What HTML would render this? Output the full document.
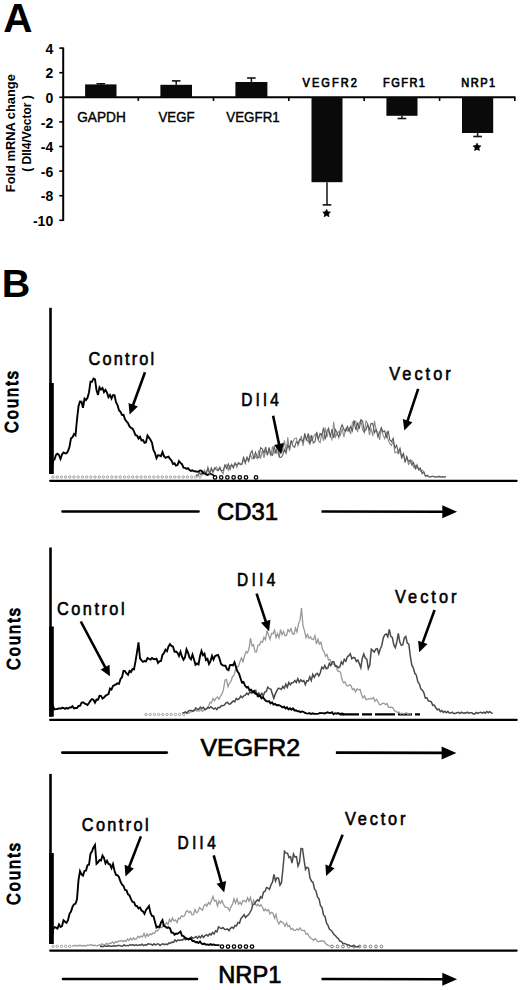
<!DOCTYPE html>
<html><head><meta charset="utf-8"><style>
html,body{margin:0;padding:0;background:#fff;width:520px;height:990px;overflow:hidden}
svg{display:block}
text{font-family:"Liberation Sans", sans-serif;fill:#000}
</style></head><body>
<svg width="520" height="990" viewBox="0 0 520 990">
<text x="3.3" y="32" font-size="40.5" font-weight="bold" fill="#000">A</text>
<line x1="63.2" y1="47.5" x2="63.2" y2="220.9" stroke="#000" stroke-width="2"/>
<line x1="59.3" y1="48.1" x2="63.2" y2="48.1" stroke="#000" stroke-width="1.6"/>
<text x="53.2" y="53.7" font-size="14" font-weight="bold" text-anchor="end">4</text>
<line x1="59.3" y1="72.7" x2="63.2" y2="72.7" stroke="#000" stroke-width="1.6"/>
<text x="53.2" y="78.3" font-size="14" font-weight="bold" text-anchor="end">2</text>
<line x1="59.3" y1="97.3" x2="63.2" y2="97.3" stroke="#000" stroke-width="1.6"/>
<text x="53.2" y="102.9" font-size="14" font-weight="bold" text-anchor="end">0</text>
<line x1="59.3" y1="121.9" x2="63.2" y2="121.9" stroke="#000" stroke-width="1.6"/>
<text x="53.2" y="127.5" font-size="14" font-weight="bold" text-anchor="end">-2</text>
<line x1="59.3" y1="146.5" x2="63.2" y2="146.5" stroke="#000" stroke-width="1.6"/>
<text x="53.2" y="152.1" font-size="14" font-weight="bold" text-anchor="end">-4</text>
<line x1="59.3" y1="171.1" x2="63.2" y2="171.1" stroke="#000" stroke-width="1.6"/>
<text x="53.2" y="176.7" font-size="14" font-weight="bold" text-anchor="end">-6</text>
<line x1="59.3" y1="195.7" x2="63.2" y2="195.7" stroke="#000" stroke-width="1.6"/>
<text x="53.2" y="201.3" font-size="14" font-weight="bold" text-anchor="end">-8</text>
<line x1="59.3" y1="220.3" x2="63.2" y2="220.3" stroke="#000" stroke-width="1.6"/>
<text x="53.2" y="225.9" font-size="14" font-weight="bold" text-anchor="end">-10</text>
<line x1="62.2" y1="97.3" x2="515.5" y2="97.3" stroke="#000" stroke-width="2"/>
<line x1="138.3" y1="97.3" x2="138.3" y2="100.9" stroke="#000" stroke-width="1.6"/>
<line x1="213.5" y1="97.3" x2="213.5" y2="100.9" stroke="#000" stroke-width="1.6"/>
<line x1="288.8" y1="97.3" x2="288.8" y2="100.9" stroke="#000" stroke-width="1.6"/>
<line x1="364.2" y1="97.3" x2="364.2" y2="100.9" stroke="#000" stroke-width="1.6"/>
<line x1="439.6" y1="97.3" x2="439.6" y2="100.9" stroke="#000" stroke-width="1.6"/>
<line x1="514.8" y1="97.3" x2="514.8" y2="100.9" stroke="#000" stroke-width="1.6"/>
<rect x="85.1" y="84.4" width="31.4" height="12.9" fill="#0a0a0a"/>
<line x1="100.8" y1="84.4" x2="100.8" y2="83.8" stroke="#111" stroke-width="1.5"/>
<line x1="96.5" y1="83.8" x2="105.1" y2="83.8" stroke="#111" stroke-width="1.6"/>
<rect x="160.4" y="84.8" width="31.6" height="12.5" fill="#0a0a0a"/>
<line x1="176.2" y1="84.8" x2="176.2" y2="80.9" stroke="#111" stroke-width="1.5"/>
<line x1="171.9" y1="80.9" x2="180.5" y2="80.9" stroke="#111" stroke-width="1.6"/>
<rect x="235.4" y="82.0" width="32.0" height="15.3" fill="#0a0a0a"/>
<line x1="251.4" y1="82.0" x2="251.4" y2="78.0" stroke="#111" stroke-width="1.5"/>
<line x1="247.1" y1="78.0" x2="255.7" y2="78.0" stroke="#111" stroke-width="1.6"/>
<rect x="311.5" y="97.3" width="31.0" height="84.9" fill="#0a0a0a"/>
<line x1="327.0" y1="182.2" x2="327.0" y2="204.9" stroke="#111" stroke-width="1.5"/>
<line x1="322.7" y1="204.9" x2="331.3" y2="204.9" stroke="#111" stroke-width="1.6"/>
<rect x="386.4" y="97.3" width="31.1" height="18.5" fill="#0a0a0a"/>
<line x1="401.9" y1="115.8" x2="401.9" y2="118.5" stroke="#111" stroke-width="1.5"/>
<line x1="397.6" y1="118.5" x2="406.2" y2="118.5" stroke="#111" stroke-width="1.6"/>
<rect x="462" y="97.3" width="31.2" height="35.7" fill="#0a0a0a"/>
<line x1="477.6" y1="133.0" x2="477.6" y2="136.5" stroke="#111" stroke-width="1.5"/>
<line x1="473.3" y1="136.5" x2="481.9" y2="136.5" stroke="#111" stroke-width="1.6"/>
<text x="101.5" y="121.5" font-size="14" text-anchor="middle" textLength="48.5" lengthAdjust="spacingAndGlyphs" fill="#000" stroke="#000" stroke-width="0.4">GAPDH</text>
<text x="176.5" y="121.5" font-size="14" text-anchor="middle" textLength="36" lengthAdjust="spacingAndGlyphs" fill="#000" stroke="#000" stroke-width="0.4">VEGF</text>
<text x="253" y="121.5" font-size="14" text-anchor="middle" textLength="53.5" lengthAdjust="spacingAndGlyphs" fill="#000" stroke="#000" stroke-width="0.4">VEGFR1</text>
<text transform="translate(329.7,87.3) scale(0.85,1)" font-size="13" text-anchor="middle" textLength="64.1" lengthAdjust="spacing" fill="#000" stroke="#000" stroke-width="0.7">VEGFR2</text>
<text transform="translate(404,87.3) scale(0.85,1)" font-size="13" text-anchor="middle" textLength="49.4" lengthAdjust="spacing" fill="#000" stroke="#000" stroke-width="0.7">FGFR1</text>
<text transform="translate(478.2,87.3) scale(0.85,1)" font-size="13" text-anchor="middle" textLength="39.8" lengthAdjust="spacing" fill="#000" stroke="#000" stroke-width="0.7">NRP1</text>
<polygon points="326.60,209.40 327.75,211.82 330.40,212.16 328.45,214.00 328.95,216.64 326.60,215.35 324.25,216.64 324.75,214.00 322.80,212.16 325.45,211.82" fill="#000" stroke="#000" stroke-width="0.8" stroke-linejoin="round"/>
<polygon points="477.00,143.20 478.15,145.62 480.80,145.96 478.85,147.80 479.35,150.44 477.00,149.15 474.65,150.44 475.15,147.80 473.20,145.96 475.85,145.62" fill="#000" stroke="#000" stroke-width="0.8" stroke-linejoin="round"/>
<text transform="translate(15.2,133.2) rotate(-90)" font-size="12.5" font-weight="bold" text-anchor="middle" textLength="118" lengthAdjust="spacingAndGlyphs">Fold mRNA change</text>
<text transform="translate(30.6,133.5) rotate(-90)" font-size="13.6" font-weight="bold" text-anchor="middle" textLength="76.5" lengthAdjust="spacingAndGlyphs">( Dll4/Vector )</text>
<text x="1.8" y="296.8" font-size="39.5" font-weight="bold" fill="#000">B</text>
<line x1="50.5" y1="307.8" x2="50.5" y2="474" stroke="#000" stroke-width="2.6"/>
<rect x="49.2" y="383" width="4.6" height="91.0" fill="#000"/>
<line x1="50.2" y1="480.8" x2="516.6" y2="480.8" stroke="#000" stroke-width="2.3" stroke-linecap="round"/>
<text transform="translate(18.0,402) rotate(-90) scale(0.86,1)" font-size="19" text-anchor="middle" textLength="72.1" lengthAdjust="spacing" stroke="#000" stroke-width="1.1">Counts</text>
<circle cx="53.0" cy="477" r="1.2" fill="none" stroke="#999" stroke-width="0.9"/>
<circle cx="57.2" cy="477" r="1.2" fill="none" stroke="#999" stroke-width="0.9"/>
<circle cx="61.4" cy="477" r="1.2" fill="none" stroke="#999" stroke-width="0.9"/>
<circle cx="65.6" cy="477" r="1.2" fill="none" stroke="#999" stroke-width="0.9"/>
<circle cx="69.8" cy="477" r="1.2" fill="none" stroke="#999" stroke-width="0.9"/>
<circle cx="74.0" cy="477" r="1.2" fill="none" stroke="#999" stroke-width="0.9"/>
<circle cx="78.2" cy="477" r="1.2" fill="none" stroke="#999" stroke-width="0.9"/>
<circle cx="82.4" cy="477" r="1.2" fill="none" stroke="#999" stroke-width="0.9"/>
<circle cx="86.6" cy="477" r="1.2" fill="none" stroke="#999" stroke-width="0.9"/>
<circle cx="90.8" cy="477" r="1.2" fill="none" stroke="#999" stroke-width="0.9"/>
<circle cx="95.0" cy="477" r="1.2" fill="none" stroke="#999" stroke-width="0.9"/>
<circle cx="99.2" cy="477" r="1.2" fill="none" stroke="#999" stroke-width="0.9"/>
<circle cx="103.4" cy="477" r="1.2" fill="none" stroke="#999" stroke-width="0.9"/>
<circle cx="107.6" cy="477" r="1.2" fill="none" stroke="#999" stroke-width="0.9"/>
<circle cx="111.8" cy="477" r="1.2" fill="none" stroke="#999" stroke-width="0.9"/>
<circle cx="116.0" cy="477" r="1.2" fill="none" stroke="#999" stroke-width="0.9"/>
<circle cx="120.2" cy="477" r="1.2" fill="none" stroke="#999" stroke-width="0.9"/>
<circle cx="124.4" cy="477" r="1.2" fill="none" stroke="#999" stroke-width="0.9"/>
<circle cx="128.6" cy="477" r="1.2" fill="none" stroke="#999" stroke-width="0.9"/>
<circle cx="132.8" cy="477" r="1.2" fill="none" stroke="#999" stroke-width="0.9"/>
<circle cx="137.0" cy="477" r="1.2" fill="none" stroke="#999" stroke-width="0.9"/>
<circle cx="141.2" cy="477" r="1.2" fill="none" stroke="#999" stroke-width="0.9"/>
<circle cx="145.4" cy="477" r="1.2" fill="none" stroke="#999" stroke-width="0.9"/>
<circle cx="149.6" cy="477" r="1.2" fill="none" stroke="#999" stroke-width="0.9"/>
<circle cx="153.8" cy="477" r="1.2" fill="none" stroke="#999" stroke-width="0.9"/>
<circle cx="158.0" cy="477" r="1.2" fill="none" stroke="#999" stroke-width="0.9"/>
<circle cx="162.2" cy="477" r="1.2" fill="none" stroke="#999" stroke-width="0.9"/>
<circle cx="166.4" cy="477" r="1.2" fill="none" stroke="#999" stroke-width="0.9"/>
<circle cx="170.6" cy="477" r="1.2" fill="none" stroke="#999" stroke-width="0.9"/>
<circle cx="174.8" cy="477" r="1.2" fill="none" stroke="#999" stroke-width="0.9"/>
<circle cx="179.0" cy="477" r="1.2" fill="none" stroke="#999" stroke-width="0.9"/>
<circle cx="183.2" cy="477" r="1.2" fill="none" stroke="#999" stroke-width="0.9"/>
<circle cx="187.4" cy="477" r="1.2" fill="none" stroke="#999" stroke-width="0.9"/>
<circle cx="191.6" cy="477" r="1.2" fill="none" stroke="#999" stroke-width="0.9"/>
<circle cx="195.8" cy="477" r="1.2" fill="none" stroke="#999" stroke-width="0.9"/>
<circle cx="200.0" cy="477" r="1.2" fill="none" stroke="#999" stroke-width="0.9"/>
<circle cx="215.0" cy="477.4" r="1.7" fill="none" stroke="#000" stroke-width="1.3"/>
<circle cx="221.2" cy="477.4" r="1.7" fill="none" stroke="#000" stroke-width="1.3"/>
<circle cx="227.4" cy="477.4" r="1.7" fill="none" stroke="#000" stroke-width="1.3"/>
<circle cx="233.6" cy="477.4" r="1.7" fill="none" stroke="#000" stroke-width="1.3"/>
<circle cx="239.8" cy="477.4" r="1.7" fill="none" stroke="#000" stroke-width="1.3"/>
<circle cx="246.0" cy="477.4" r="1.7" fill="none" stroke="#000" stroke-width="1.3"/>
<circle cx="256.0" cy="477.4" r="1.7" fill="none" stroke="#000" stroke-width="1.3"/>
<line x1="209" y1="473" x2="215" y2="476" stroke="#000" stroke-width="1.6"/>
<path d="M196.0,475.2 L197.7,476.1 L199.4,473.2 L201.1,473.0 L202.8,474.9 L204.5,470.0 L206.2,473.8 L207.9,469.0 L209.6,473.0 L211.3,469.7 L213.0,472.7 L214.7,468.8 L216.4,466.9 L218.1,470.8 L219.8,468.7 L221.5,471.7 L223.2,473.7 L224.9,465.1 L226.6,465.0 L228.3,470.2 L230.0,465.4 L231.7,465.5 L233.4,466.3 L235.1,462.8 L236.8,467.5 L238.5,463.2 L240.2,464.8 L241.9,464.3 L243.6,459.8 L245.3,461.6 L247.0,458.2 L248.7,461.8 L250.4,454.7 L252.1,458.8 L253.8,458.4 L255.5,456.2 L257.2,458.8 L258.9,450.0 L260.6,458.6 L262.3,450.6 L264.0,457.9 L265.7,450.5 L267.4,453.9 L269.1,450.6 L270.8,456.2 L272.5,446.3 L274.2,453.2 L275.9,449.8 L277.6,452.4 L279.3,456.5 L281.0,447.6 L282.7,451.6 L284.4,440.3 L286.1,452.0 L287.8,437.4 L289.5,451.2 L291.2,441.1 L292.9,442.1 L294.6,438.6 L296.3,438.0 L298.0,445.6 L299.7,441.2 L301.4,436.0 L303.1,445.9 L304.8,434.9 L306.5,439.2 L308.2,442.0 L309.9,435.8 L311.6,440.7 L313.3,437.6 L315.0,434.1 L316.7,435.4 L318.4,440.5 L320.1,442.6 L321.8,433.2 L323.5,440.9 L325.2,427.7 L326.9,437.4 L328.6,430.4 L330.3,436.1 L332.0,439.7 L333.7,421.8 L335.4,437.1 L337.1,433.4 L338.8,431.5 L340.5,435.1 L342.2,428.4 L343.9,437.2 L345.6,428.7 L347.3,430.9 L349.0,427.6 L350.7,434.2 L352.4,422.5 L354.1,420.9 L355.8,421.5 L357.5,432.1 L359.2,422.7 L360.9,420.3 L362.6,429.6 L364.3,432.7 L366.0,421.0 L367.7,423.6 L369.4,435.0 L371.1,428.1 L372.8,436.1 L374.5,420.8 L376.2,430.8 L377.9,432.1 L379.6,439.9 L381.3,428.8 L383.0,434.6 L384.7,438.7 L386.4,432.9 L388.1,439.8 L389.8,443.7 L391.5,445.4 L393.2,440.6 L394.9,452.7 L396.6,451.9 L398.3,453.8 L400.0,451.4 L401.7,459.0 L403.4,453.2 L405.1,461.5 L406.8,457.1 L408.5,464.6 L410.2,462.4 L411.9,460.4 L413.6,467.4 L415.3,465.5 L417.0,468.6 L418.7,467.7 L420.4,471.2 L422.1,470.2 L423.8,471.8 L425.5,476.0 L427.2,476.3 L428.9,477.0 L430.6,476.9 L432.3,476.5 L434.0,476.4 L435.7,477.0 L437.4,476.6 L439.1,476.1 L440.8,477.0 L442.5,476.6 L444.2,477.0 L445.9,476.7" fill="none" stroke="#8c8c8c" stroke-width="1.1"/>
<path d="M196.0,475.0 L197.7,475.3 L199.4,472.6 L201.1,474.8 L202.8,471.6 L204.5,472.0 L206.2,473.9 L207.9,467.3 L209.6,473.7 L211.3,467.8 L213.0,471.7 L214.7,467.8 L216.4,469.9 L218.1,470.6 L219.8,467.0 L221.5,470.9 L223.2,470.4 L224.9,465.2 L226.6,468.4 L228.3,463.9 L230.0,469.3 L231.7,464.5 L233.4,468.1 L235.1,463.3 L236.8,465.2 L238.5,462.5 L240.2,464.0 L241.9,464.1 L243.6,456.6 L245.3,463.3 L247.0,457.1 L248.7,460.5 L250.4,453.5 L252.1,450.7 L253.8,458.9 L255.5,452.3 L257.2,456.9 L258.9,457.7 L260.6,447.7 L262.3,448.9 L264.0,453.0 L265.7,447.0 L267.4,455.4 L269.1,447.3 L270.8,454.1 L272.5,455.1 L274.2,446.1 L275.9,453.7 L277.6,445.9 L279.3,457.1 L281.0,457.5 L282.7,455.3 L284.4,449.5 L286.1,453.2 L287.8,444.9 L289.5,448.4 L291.2,440.4 L292.9,446.0 L294.6,447.4 L296.3,441.7 L298.0,443.5 L299.7,439.2 L301.4,440.0 L303.1,441.9 L304.8,433.4 L306.5,440.6 L308.2,433.4 L309.9,444.7 L311.6,435.2 L313.3,443.1 L315.0,441.7 L316.7,431.9 L318.4,439.1 L320.1,433.5 L321.8,435.8 L323.5,427.5 L325.2,439.5 L326.9,431.4 L328.6,428.1 L330.3,437.1 L332.0,429.1 L333.7,437.9 L335.4,429.5 L337.1,432.7 L338.8,437.4 L340.5,428.5 L342.2,424.8 L343.9,429.4 L345.6,431.6 L347.3,426.4 L349.0,431.3 L350.7,426.5 L352.4,431.0 L354.1,420.5 L355.8,430.0 L357.5,422.5 L359.2,428.9 L360.9,419.8 L362.6,421.1 L364.3,431.5 L366.0,429.7 L367.7,424.5 L369.4,429.7 L371.1,423.5 L372.8,423.8 L374.5,432.7 L376.2,429.5 L377.9,436.8 L379.6,432.5 L381.3,427.5 L383.0,431.9 L384.7,430.9 L386.4,437.8 L388.1,430.5 L389.8,439.7 L391.5,441.7 L393.2,438.2 L394.9,448.3 L396.6,445.3 L398.3,452.3 L400.0,448.1 L401.7,457.1 L403.4,453.7 L405.1,462.3 L406.8,456.5 L408.5,461.7 L410.2,460.1 L411.9,465.0 L413.6,462.6 L415.3,468.8 L417.0,464.8 L418.7,469.9 L420.4,468.0 L422.1,473.7 L423.8,472.0 L425.5,476.4 L427.2,475.1 L428.9,476.4 L430.6,477.0 L432.3,476.1 L434.0,476.9 L435.7,477.0 L437.4,477.0 L439.1,476.6 L440.8,477.0 L442.5,476.7 L444.2,477.0 L445.9,476.6" fill="none" stroke="#5a5a5a" stroke-width="1.1"/>
<path d="M51.5,473.5 L53.0,460.6 L54.5,459.5 L56.0,454.8 L57.5,453.7 L59.0,455.0 L60.5,459.0 L62.0,454.5 L63.5,452.5 L65.0,453.4 L66.5,453.3 L68.0,451.1 L69.5,446.7 L71.0,438.3 L72.5,437.3 L74.0,434.1 L75.5,435.4 L77.0,419.5 L78.5,406.3 L80.0,401.6 L81.5,401.7 L83.0,407.9 L84.5,398.7 L86.0,400.0 L87.5,397.8 L89.0,392.4 L90.5,381.7 L92.0,381.8 L93.5,378.6 L95.0,379.4 L96.5,390.0 L98.0,394.9 L99.5,387.3 L101.0,389.5 L102.5,388.0 L104.0,392.1 L105.5,389.8 L107.0,392.6 L108.5,397.1 L110.0,395.0 L111.5,398.5 L113.0,395.1 L114.5,395.1 L116.0,402.1 L117.5,405.0 L119.0,410.2 L120.5,411.9 L122.0,414.9 L123.5,414.8 L125.0,419.4 L126.5,421.3 L128.0,423.1 L129.5,426.4 L131.0,428.0 L132.5,428.6 L134.0,431.3 L135.5,435.2 L137.0,435.6 L138.5,438.5 L140.0,436.8 L141.5,440.4 L143.0,440.0 L144.5,442.8 L146.0,442.3 L147.5,435.5 L149.0,437.6 L150.5,439.8 L152.0,442.7 L153.5,450.1 L155.0,453.0 L156.5,458.2 L158.0,455.3 L159.5,455.5 L161.0,456.2 L162.5,452.1 L164.0,456.2 L165.5,457.9 L167.0,457.1 L168.5,456.7 L170.0,459.0 L171.5,460.6 L173.0,464.0 L174.5,463.3 L176.0,465.6 L177.5,465.1 L179.0,461.1 L180.5,462.9 L182.0,464.2 L183.5,467.6 L185.0,467.8 L186.5,468.9 L188.0,468.1 L189.5,470.0 L191.0,470.9 L192.5,470.3 L194.0,471.4 L195.5,471.3 L197.0,471.8 L198.5,471.5 L200.0,470.4 L201.5,470.7 L203.0,473.1 L204.5,473.3 L206.0,474.4 L207.5,475.0 L209.0,474.1" fill="none" stroke="#000" stroke-width="1.9"/>
<text transform="translate(88.5,365.4) scale(0.86,1)" font-size="19" textLength="76.4" lengthAdjust="spacing" stroke="#000" stroke-width="0.65">Control</text>
<line x1="145.0" y1="372.3" x2="132.8" y2="405.7" stroke="#000" stroke-width="2.6"/>
<polygon points="129.6,414.6 128.5,403.0 137.9,406.4" fill="#000"/>
<text transform="translate(241.3,406.2) scale(0.86,1)" font-size="18" textLength="43.6" lengthAdjust="spacing" stroke="#000" stroke-width="0.65">Dll4</text>
<line x1="273.1" y1="415.8" x2="279.2" y2="444.9" stroke="#000" stroke-width="2.6"/>
<polygon points="281.2,454.2 274.1,445.0 283.9,442.9" fill="#000"/>
<text transform="translate(389.2,379.8) scale(0.86,1)" font-size="19" textLength="71.6" lengthAdjust="spacing" stroke="#000" stroke-width="0.65">Vector</text>
<line x1="418.2" y1="388.9" x2="407.3" y2="421.6" stroke="#000" stroke-width="2.6"/>
<polygon points="404.3,430.6 402.9,419.1 412.4,422.2" fill="#000"/>
<line x1="62.5" y1="511.5" x2="198.5" y2="511.5" stroke="#000" stroke-width="2.6" stroke-linecap="round"/>
<line x1="321.5" y1="511.5" x2="443.3" y2="511.8" stroke="#000" stroke-width="2.6"/>
<polygon points="457.1,511.8 442.3,518.3 442.3,505.3" fill="#000"/>
<text x="217" y="520.2" font-size="23.5" textLength="61" lengthAdjust="spacingAndGlyphs" stroke="#000" stroke-width="0.7">CD31</text>
<line x1="50.5" y1="547.5" x2="50.5" y2="716.7" stroke="#000" stroke-width="2.6"/>
<rect x="49.2" y="626.5" width="4.6" height="90.2" fill="#000"/>
<line x1="50.2" y1="719.9" x2="516.6" y2="719.9" stroke="#000" stroke-width="2.3" stroke-linecap="round"/>
<text transform="translate(20.4,639) rotate(-90) scale(0.86,1)" font-size="19" text-anchor="middle" textLength="72.1" lengthAdjust="spacing" stroke="#000" stroke-width="1.1">Counts</text>
<circle cx="146.0" cy="714.5" r="1.2" fill="none" stroke="#999" stroke-width="0.9"/>
<circle cx="150.2" cy="714.5" r="1.2" fill="none" stroke="#999" stroke-width="0.9"/>
<circle cx="154.4" cy="714.5" r="1.2" fill="none" stroke="#999" stroke-width="0.9"/>
<circle cx="158.6" cy="714.5" r="1.2" fill="none" stroke="#999" stroke-width="0.9"/>
<circle cx="162.8" cy="714.5" r="1.2" fill="none" stroke="#999" stroke-width="0.9"/>
<circle cx="167.0" cy="714.5" r="1.2" fill="none" stroke="#999" stroke-width="0.9"/>
<circle cx="171.2" cy="714.5" r="1.2" fill="none" stroke="#999" stroke-width="0.9"/>
<circle cx="175.4" cy="714.5" r="1.2" fill="none" stroke="#999" stroke-width="0.9"/>
<circle cx="179.6" cy="714.5" r="1.2" fill="none" stroke="#999" stroke-width="0.9"/>
<circle cx="183.8" cy="714.5" r="1.2" fill="none" stroke="#999" stroke-width="0.9"/>
<line x1="340" y1="714.3" x2="420" y2="714.3" stroke="#000" stroke-width="2.2" stroke-dasharray="19 3 10 3 20 3 14 3"/>
<path d="M186.0,712.8 L187.5,713.3 L189.0,713.1 L190.5,711.8 L192.0,711.6 L193.5,710.2 L195.0,709.9 L196.5,711.0 L198.0,710.6 L199.5,711.1 L201.0,709.7 L202.5,711.3 L204.0,710.1 L205.5,709.9 L207.0,708.6 L208.5,706.3 L210.0,702.3 L211.5,702.9 L213.0,698.4 L214.5,700.8 L216.0,698.1 L217.5,697.0 L219.0,699.3 L220.5,696.2 L222.0,693.9 L223.5,689.4 L225.0,680.1 L226.5,679.6 L228.0,686.6 L229.5,683.0 L231.0,681.1 L232.5,676.7 L234.0,675.2 L235.5,669.6 L237.0,666.7 L238.5,666.4 L240.0,661.4 L241.5,658.0 L243.0,661.7 L244.5,656.1 L246.0,651.7 L247.5,652.9 L249.0,648.6 L250.5,638.0 L252.0,645.9 L253.5,644.5 L255.0,651.9 L256.5,651.8 L258.0,645.1 L259.5,645.1 L261.0,641.5 L262.5,642.3 L264.0,637.2 L265.5,639.8 L267.0,630.5 L268.5,635.0 L270.0,639.2 L271.5,633.4 L273.0,633.7 L274.5,630.1 L276.0,637.5 L277.5,633.7 L279.0,637.8 L280.5,629.5 L282.0,634.9 L283.5,631.6 L285.0,635.8 L286.5,635.4 L288.0,629.5 L289.5,631.8 L291.0,628.8 L292.5,633.8 L294.0,634.4 L295.5,628.0 L297.0,632.0 L298.5,623.7 L300.0,620.4 L301.5,608.1 L303.0,625.7 L304.5,630.8 L306.0,637.7 L307.5,634.5 L309.0,638.4 L310.5,636.8 L312.0,639.4 L313.5,639.5 L315.0,635.7 L316.5,644.1 L318.0,639.2 L319.5,644.2 L321.0,642.3 L322.5,649.3 L324.0,651.6 L325.5,656.2 L327.0,654.5 L328.5,659.9 L330.0,659.6 L331.5,664.1 L333.0,663.8 L334.5,664.9 L336.0,665.0 L337.5,670.7 L339.0,671.3 L340.5,672.2 L342.0,679.6 L343.5,682.9 L345.0,681.9 L346.5,685.5 L348.0,686.0 L349.5,684.8 L351.0,685.7 L352.5,689.6 L354.0,688.7 L355.5,691.8 L357.0,688.9 L358.5,689.8 L360.0,689.3 L361.5,694.6 L363.0,697.9 L364.5,695.8 L366.0,699.6 L367.5,699.1 L369.0,699.0 L370.5,698.5 L372.0,698.8 L373.5,697.5 L375.0,701.3 L376.5,699.3 L378.0,701.7 L379.5,704.8 L381.0,704.5 L382.5,703.4 L384.0,703.1 L385.5,704.6 L387.0,703.5 L388.5,707.1 L390.0,707.5 L391.5,707.0 L393.0,707.9 L394.5,710.8 L396.0,711.0 L397.5,712.7 L399.0,712.0 L400.5,714.0 L402.0,713.2 L403.5,714.1 L405.0,713.3 L406.5,712.8 L408.0,714.5 L409.5,713.5 L411.0,714.6" fill="none" stroke="#999" stroke-width="1.3"/>
<path d="M182.3,713.1 L183.8,712.8 L185.3,711.9 L186.8,713.1 L188.3,711.0 L189.8,710.4 L191.3,710.4 L192.8,711.3 L194.3,710.5 L195.8,707.9 L197.3,709.3 L198.8,709.3 L200.3,707.1 L201.8,708.6 L203.3,707.4 L204.8,709.3 L206.3,709.0 L207.8,707.5 L209.3,708.2 L210.8,706.8 L212.3,707.9 L213.8,709.0 L215.3,708.0 L216.8,709.5 L218.3,707.3 L219.8,707.7 L221.3,705.5 L222.8,705.7 L224.3,705.2 L225.8,703.1 L227.3,702.3 L228.8,704.1 L230.3,704.0 L231.8,702.4 L233.3,701.0 L234.8,701.7 L236.3,698.5 L237.8,699.6 L239.3,698.6 L240.8,696.1 L242.3,697.7 L243.8,695.8 L245.3,695.1 L246.8,693.2 L248.3,694.6 L249.8,691.9 L251.3,693.1 L252.8,692.2 L254.3,693.2 L255.8,690.7 L257.3,695.9 L258.8,693.1 L260.3,695.9 L261.8,693.3 L263.3,695.8 L264.8,692.0 L266.3,691.4 L267.8,687.1 L269.3,688.7 L270.8,689.1 L272.3,693.7 L273.8,698.3 L275.3,693.9 L276.8,690.9 L278.3,688.4 L279.8,688.5 L281.3,689.5 L282.8,686.4 L284.3,688.2 L285.8,684.1 L287.3,687.3 L288.8,682.5 L290.3,684.7 L291.8,682.8 L293.3,682.6 L294.8,680.5 L296.3,682.4 L297.8,678.7 L299.3,682.3 L300.8,679.7 L302.3,681.5 L303.8,680.6 L305.3,684.6 L306.8,680.8 L308.3,680.9 L309.8,676.8 L311.3,680.5 L312.8,674.4 L314.3,677.3 L315.8,674.3 L317.3,673.4 L318.8,675.9 L320.3,672.7 L321.8,667.3 L323.3,668.8 L324.8,665.6 L326.3,668.7 L327.8,668.1 L329.3,663.4 L330.8,665.6 L332.3,661.8 L333.8,661.7 L335.3,666.3 L336.8,666.1 L338.3,667.7 L339.8,666.9 L341.3,661.9 L342.8,664.3 L344.3,659.3 L345.8,661.2 L347.3,656.9 L348.8,655.6 L350.3,653.8 L351.8,658.8 L353.3,657.6 L354.8,657.8 L356.3,661.4 L357.8,660.1 L359.3,663.6 L360.8,667.7 L362.3,658.2 L363.8,653.9 L365.3,658.0 L366.8,659.2 L368.3,668.6 L369.8,665.0 L371.3,649.1 L372.8,650.6 L374.3,652.1 L375.8,649.2 L377.3,648.7 L378.8,653.8 L380.3,648.7 L381.8,645.5 L383.3,637.8 L384.8,634.7 L386.3,633.9 L387.8,636.7 L389.3,629.4 L390.8,636.3 L392.3,637.5 L393.8,644.7 L395.3,647.7 L396.8,642.0 L398.3,633.3 L399.8,642.0 L401.3,645.4 L402.8,644.8 L404.3,637.9 L405.8,636.5 L407.3,643.2 L408.8,643.9 L410.3,656.1 L411.8,665.2 L413.3,667.9 L414.8,673.3 L416.3,675.0 L417.8,681.8 L419.3,683.8 L420.8,688.9 L422.3,690.1 L423.8,692.5 L425.3,697.9 L426.8,697.7 L428.3,700.8 L429.8,701.2 L431.3,701.9 L432.8,705.4 L434.3,705.1 L435.8,707.8 L437.3,709.8 L438.8,709.0 L440.3,711.7 L441.8,710.5 L443.3,712.4 L444.8,711.2 L446.3,712.7 L447.8,711.4 L449.3,713.1 L450.8,713.1 L452.3,712.1 L453.8,713.5 L455.3,713.5 L456.8,712.8 L458.3,712.3 L459.8,713.6 L461.3,712.2 L462.8,713.1 L464.3,712.7 L465.8,713.2 L467.3,712.1 L468.8,713.2 L470.3,712.8 L471.8,712.7 L473.3,713.9 L474.8,713.9 L476.3,712.5 L477.8,713.3 L479.3,712.6 L480.8,712.2 L482.3,713.1 L483.8,712.2 L485.3,713.2 L486.8,711.5 L488.3,712.7 L489.8,711.6 L491.3,712.9 L492.8,713.3" fill="none" stroke="#4a4a4a" stroke-width="1.5"/>
<path d="M51.5,714.6 L53.0,706.4 L54.5,709.5 L56.0,709.1 L57.5,709.0 L59.0,708.2 L60.5,708.7 L62.0,707.8 L63.5,708.0 L65.0,708.8 L66.5,707.9 L68.0,708.6 L69.5,707.5 L71.0,707.5 L72.5,706.1 L74.0,708.4 L75.5,708.0 L77.0,708.1 L78.5,706.0 L80.0,705.9 L81.5,702.9 L83.0,702.4 L84.5,703.4 L86.0,704.0 L87.5,705.0 L89.0,703.0 L90.5,700.7 L92.0,699.1 L93.5,699.7 L95.0,702.6 L96.5,699.6 L98.0,699.8 L99.5,695.8 L101.0,695.9 L102.5,698.7 L104.0,697.6 L105.5,695.8 L107.0,694.8 L108.5,694.0 L110.0,688.5 L111.5,689.6 L113.0,686.0 L114.5,685.1 L116.0,684.4 L117.5,683.4 L119.0,683.9 L120.5,678.9 L122.0,677.2 L123.5,670.9 L125.0,671.1 L126.5,673.5 L128.0,674.8 L129.5,670.9 L131.0,672.0 L132.5,669.0 L134.0,669.3 L135.5,661.4 L137.0,652.2 L138.5,642.4 L140.0,658.3 L141.5,660.4 L143.0,661.8 L144.5,661.0 L146.0,661.4 L147.5,658.0 L149.0,658.8 L150.5,659.5 L152.0,658.0 L153.5,659.0 L155.0,659.3 L156.5,658.7 L158.0,662.9 L159.5,661.4 L161.0,660.9 L162.5,654.8 L164.0,653.0 L165.5,649.6 L167.0,651.2 L168.5,646.5 L170.0,644.2 L171.5,646.0 L173.0,646.6 L174.5,651.7 L176.0,651.5 L177.5,652.8 L179.0,656.0 L180.5,651.8 L182.0,656.7 L183.5,659.8 L185.0,657.1 L186.5,649.3 L188.0,652.6 L189.5,657.5 L191.0,659.3 L192.5,654.6 L194.0,659.4 L195.5,664.8 L197.0,663.5 L198.5,664.4 L200.0,656.3 L201.5,651.0 L203.0,655.3 L204.5,653.7 L206.0,660.1 L207.5,658.9 L209.0,664.0 L210.5,661.1 L212.0,655.9 L213.5,659.6 L215.0,656.1 L216.5,655.3 L218.0,654.9 L219.5,658.6 L221.0,664.0 L222.5,665.1 L224.0,665.8 L225.5,665.7 L227.0,669.3 L228.5,670.1 L230.0,665.1 L231.5,665.0 L233.0,665.4 L234.5,662.3 L236.0,667.1 L237.5,671.6 L239.0,673.4 L240.5,678.3 L242.0,682.7 L243.5,682.0 L245.0,685.5 L246.5,687.3 L248.0,686.8 L249.5,690.2 L251.0,689.6 L252.5,692.1 L254.0,690.9 L255.5,693.9 L257.0,693.9 L258.5,696.3 L260.0,695.6 L261.5,698.3 L263.0,697.1 L264.5,699.4 L266.0,700.9 L267.5,701.6 L269.0,701.2 L270.5,703.4 L272.0,702.3 L273.5,704.6 L275.0,703.9 L276.5,705.3 L278.0,705.0 L279.5,705.3 L281.0,706.3 L282.5,707.3 L284.0,706.6 L285.5,708.4 L287.0,707.4 L288.5,709.5 L290.0,708.3 L291.5,709.7 L293.0,708.4 L294.5,710.4 L296.0,710.3 L297.5,711.2 L299.0,711.1 L300.5,712.1 L302.0,711.4 L303.5,711.8 L305.0,712.9 L306.5,713.4 L308.0,713.6 L309.5,713.1 L311.0,714.0 L312.5,713.3 L314.0,713.8 L315.5,713.9 L317.0,713.9 L318.5,713.7 L320.0,713.0 L321.5,713.1 L323.0,713.1 L324.5,713.5 L326.0,712.9 L327.5,712.3 L329.0,712.9 L330.5,713.0 L332.0,712.2 L333.5,714.2 L335.0,713.2 L336.5,713.7 L338.0,713.1 L339.5,713.9 L341.0,713.7 L342.5,713.5 L344.0,714.9" fill="none" stroke="#000" stroke-width="1.9"/>
<text transform="translate(56.9,615.4) scale(0.86,1)" font-size="19" textLength="78.7" lengthAdjust="spacing" stroke="#000" stroke-width="0.65">Control</text>
<line x1="80.8" y1="621.5" x2="105.5" y2="667.9" stroke="#000" stroke-width="2.6"/>
<polygon points="110.0,676.3 100.6,669.4 109.5,664.7" fill="#000"/>
<text transform="translate(237,586.2) scale(0.86,1)" font-size="18" textLength="44.7" lengthAdjust="spacing" stroke="#000" stroke-width="0.65">Dll4</text>
<line x1="256.6" y1="593.7" x2="266.0" y2="622.2" stroke="#000" stroke-width="2.6"/>
<polygon points="269.0,631.2 261.0,622.8 270.5,619.7" fill="#000"/>
<text transform="translate(395,603) scale(0.86,1)" font-size="19" textLength="71.5" lengthAdjust="spacing" stroke="#000" stroke-width="0.65">Vector</text>
<line x1="434.6" y1="610.0" x2="422.4" y2="643.4" stroke="#000" stroke-width="2.6"/>
<polygon points="419.2,652.3 418.1,640.7 427.5,644.1" fill="#000"/>
<line x1="62.3" y1="752.6" x2="166.8" y2="752.6" stroke="#000" stroke-width="2.6" stroke-linecap="round"/>
<line x1="335.9" y1="752.6" x2="442.6" y2="752.9" stroke="#000" stroke-width="2.6"/>
<polygon points="456.4,752.9 441.6,759.4 441.6,746.4" fill="#000"/>
<text x="200.5" y="756.2" font-size="23.5" textLength="99.5" lengthAdjust="spacingAndGlyphs" stroke="#000" stroke-width="0.7">VEGFR2</text>
<line x1="50.5" y1="773.9" x2="50.5" y2="944" stroke="#000" stroke-width="2.6"/>
<rect x="49.2" y="853" width="4.6" height="91.0" fill="#000"/>
<line x1="50.2" y1="950.6" x2="516.6" y2="950.6" stroke="#000" stroke-width="2.3" stroke-linecap="round"/>
<text transform="translate(20.4,874) rotate(-90) scale(0.86,1)" font-size="19" text-anchor="middle" textLength="72.1" lengthAdjust="spacing" stroke="#000" stroke-width="1.1">Counts</text>
<circle cx="53.0" cy="946.3" r="1.2" fill="none" stroke="#999" stroke-width="0.9"/>
<circle cx="57.2" cy="946.3" r="1.2" fill="none" stroke="#999" stroke-width="0.9"/>
<circle cx="61.4" cy="946.3" r="1.2" fill="none" stroke="#999" stroke-width="0.9"/>
<circle cx="65.6" cy="946.3" r="1.2" fill="none" stroke="#999" stroke-width="0.9"/>
<circle cx="69.8" cy="946.3" r="1.2" fill="none" stroke="#999" stroke-width="0.9"/>
<circle cx="222.0" cy="946.6" r="1.7" fill="none" stroke="#000" stroke-width="1.3"/>
<circle cx="228.0" cy="946.6" r="1.7" fill="none" stroke="#000" stroke-width="1.3"/>
<circle cx="234.0" cy="946.6" r="1.7" fill="none" stroke="#000" stroke-width="1.3"/>
<circle cx="240.0" cy="946.6" r="1.7" fill="none" stroke="#000" stroke-width="1.3"/>
<circle cx="246.0" cy="946.6" r="1.7" fill="none" stroke="#000" stroke-width="1.3"/>
<circle cx="252.0" cy="946.6" r="1.7" fill="none" stroke="#000" stroke-width="1.3"/>
<circle cx="332.0" cy="946.5" r="1.4" fill="none" stroke="#777" stroke-width="1"/>
<circle cx="337.5" cy="946.5" r="1.4" fill="none" stroke="#777" stroke-width="1"/>
<circle cx="343.0" cy="946.5" r="1.4" fill="none" stroke="#777" stroke-width="1"/>
<circle cx="348.5" cy="946.5" r="1.4" fill="none" stroke="#777" stroke-width="1"/>
<circle cx="354.0" cy="946.5" r="1.4" fill="none" stroke="#777" stroke-width="1"/>
<circle cx="359.5" cy="946.5" r="1.4" fill="none" stroke="#777" stroke-width="1"/>
<circle cx="365.0" cy="946.5" r="1.4" fill="none" stroke="#777" stroke-width="1"/>
<circle cx="370.5" cy="946.5" r="1.4" fill="none" stroke="#777" stroke-width="1"/>
<circle cx="376.0" cy="946.5" r="1.4" fill="none" stroke="#777" stroke-width="1"/>
<circle cx="381.5" cy="946.5" r="1.4" fill="none" stroke="#777" stroke-width="1"/>
<path d="M72.0,945.9 L73.5,946.1 L75.0,945.3 L76.5,946.3 L78.0,945.4 L79.5,945.5 L81.0,945.3 L82.5,946.0 L84.0,945.3 L85.5,946.3 L87.0,945.2 L88.5,945.3 L90.0,944.8 L91.5,944.7 L93.0,945.7 L94.5,944.9 L96.0,945.9 L97.5,945.9 L99.0,944.8 L100.5,945.5 L102.0,943.8 L103.5,944.6 L105.0,944.8 L106.5,943.4 L108.0,944.5 L109.5,943.2 L111.0,943.4 L112.5,941.9 L114.0,943.6 L115.5,941.6 L117.0,942.4 L118.5,941.0 L120.0,941.2 L121.5,940.5 L123.0,941.6 L124.5,940.6 L126.0,941.4 L127.5,939.0 L129.0,940.5 L130.5,938.1 L132.0,940.0 L133.5,937.8 L135.0,939.4 L136.5,939.0 L138.0,936.2 L139.5,937.5 L141.0,936.0 L142.5,936.9 L144.0,933.5 L145.5,937.1 L147.0,933.9 L148.5,936.3 L150.0,933.9 L151.5,934.6 L153.0,932.8 L154.5,933.5 L156.0,930.5 L157.5,930.9 L159.0,928.8 L160.5,927.0 L162.0,927.6 L163.5,924.0 L165.0,925.2 L166.5,922.7 L168.0,924.5 L169.5,919.2 L171.0,921.8 L172.5,917.8 L174.0,921.0 L175.5,920.0 L177.0,922.4 L178.5,918.2 L180.0,918.8 L181.5,915.8 L183.0,916.6 L184.5,915.9 L186.0,911.7 L187.5,910.6 L189.0,912.6 L190.5,911.3 L192.0,914.8 L193.5,914.7 L195.0,909.6 L196.5,912.7 L198.0,911.7 L199.5,907.4 L201.0,909.1 L202.5,910.2 L204.0,905.8 L205.5,904.3 L207.0,906.1 L208.5,902.5 L210.0,904.2 L211.5,900.3 L213.0,896.5 L214.5,901.1 L216.0,900.4 L217.5,906.0 L219.0,900.9 L220.5,903.3 L222.0,900.5 L223.5,904.4 L225.0,906.9 L226.5,907.3 L228.0,907.6 L229.5,910.7 L231.0,906.8 L232.5,904.3 L234.0,898.7 L235.5,903.3 L237.0,898.9 L238.5,904.3 L240.0,902.2 L241.5,904.5 L243.0,900.6 L244.5,900.9 L246.0,901.9 L247.5,897.8 L249.0,901.3 L250.5,897.3 L252.0,905.0 L253.5,900.3 L255.0,903.6 L256.5,905.7 L258.0,904.3 L259.5,906.2 L261.0,904.7 L262.5,907.2 L264.0,910.8 L265.5,909.1 L267.0,910.9 L268.5,909.7 L270.0,914.1 L271.5,912.4 L273.0,913.2 L274.5,918.3 L276.0,914.4 L277.5,921.2 L279.0,923.9 L280.5,921.2 L282.0,921.9 L283.5,923.3 L285.0,926.2 L286.5,922.8 L288.0,926.5 L289.5,925.5 L291.0,929.4 L292.5,928.3 L294.0,930.4 L295.5,930.4 L297.0,928.9 L298.5,930.0 L300.0,927.8 L301.5,930.1 L303.0,930.7 L304.5,930.5 L306.0,934.2 L307.5,933.5 L309.0,936.1 L310.5,938.1 L312.0,938.7 L313.5,940.5 L315.0,938.6 L316.5,939.9 L318.0,941.8 L319.5,941.3 L321.0,941.0 L322.5,940.9 L324.0,941.2 L325.5,943.6 L327.0,944.6 L328.5,945.6 L330.0,945.9" fill="none" stroke="#999" stroke-width="1.3"/>
<path d="M100.0,946.4 L101.5,946.2 L103.0,946.7 L104.5,945.8 L106.0,946.3 L107.5,946.2 L109.0,945.7 L110.5,946.2 L112.0,946.2 L113.5,945.8 L115.0,946.1 L116.5,946.0 L118.0,945.4 L119.5,945.4 L121.0,945.9 L122.5,946.2 L124.0,945.0 L125.5,945.7 L127.0,945.4 L128.5,945.8 L130.0,944.7 L131.5,944.9 L133.0,944.8 L134.5,945.4 L136.0,944.9 L137.5,945.5 L139.0,944.9 L140.5,945.1 L142.0,944.2 L143.5,945.6 L145.0,944.7 L146.5,945.1 L148.0,943.9 L149.5,944.1 L151.0,944.2 L152.5,945.2 L154.0,943.7 L155.5,945.0 L157.0,944.0 L158.5,944.0 L160.0,945.5 L161.5,944.3 L163.0,943.8 L164.5,944.7 L166.0,944.0 L167.5,944.6 L169.0,942.9 L170.5,943.4 L172.0,942.0 L173.5,942.3 L175.0,940.0 L176.5,941.4 L178.0,939.8 L179.5,940.4 L181.0,939.7 L182.5,940.2 L184.0,938.6 L185.5,939.7 L187.0,938.6 L188.5,939.9 L190.0,937.8 L191.5,937.0 L193.0,938.4 L194.5,937.6 L196.0,936.6 L197.5,938.3 L199.0,936.1 L200.5,937.8 L202.0,935.3 L203.5,937.4 L205.0,935.6 L206.5,934.7 L208.0,936.1 L209.5,933.8 L211.0,934.9 L212.5,932.5 L214.0,934.0 L215.5,930.8 L217.0,931.8 L218.5,927.0 L220.0,927.9 L221.5,928.6 L223.0,927.6 L224.5,929.2 L226.0,929.4 L227.5,928.9 L229.0,930.7 L230.5,928.3 L232.0,927.2 L233.5,928.3 L235.0,925.5 L236.5,925.9 L238.0,922.4 L239.5,923.1 L241.0,918.4 L242.5,916.8 L244.0,914.6 L245.5,917.4 L247.0,915.9 L248.5,914.8 L250.0,912.4 L251.5,909.5 L253.0,904.2 L254.5,904.0 L256.0,901.4 L257.5,899.8 L259.0,901.0 L260.5,896.8 L262.0,898.0 L263.5,892.1 L265.0,891.4 L266.5,887.5 L268.0,888.1 L269.5,889.3 L271.0,884.8 L272.5,882.0 L274.0,874.3 L275.5,881.1 L277.0,877.8 L278.5,878.2 L280.0,885.1 L281.5,882.4 L283.0,868.0 L284.5,851.3 L286.0,853.0 L287.5,853.1 L289.0,857.6 L290.5,856.7 L292.0,863.1 L293.5,854.0 L295.0,857.2 L296.5,856.7 L298.0,866.0 L299.5,862.4 L301.0,848.5 L302.5,848.6 L304.0,859.7 L305.5,869.5 L307.0,867.2 L308.5,868.2 L310.0,878.1 L311.5,881.2 L313.0,882.3 L314.5,889.0 L316.0,891.0 L317.5,897.0 L319.0,898.9 L320.5,905.7 L322.0,907.4 L323.5,915.0 L325.0,916.5 L326.5,923.0 L328.0,925.4 L329.5,929.3 L331.0,930.2 L332.5,932.1 L334.0,934.5 L335.5,935.7 L337.0,937.6 L338.5,939.0 L340.0,941.4 L341.5,941.5 L343.0,943.6 L344.5,943.4 L346.0,944.1 L347.5,945.0 L349.0,945.0 L350.5,946.0 L352.0,946.4 L353.5,945.5 L355.0,946.6 L356.5,946.7 L358.0,946.7 L359.5,945.9" fill="none" stroke="#4a4a4a" stroke-width="1.5"/>
<path d="M51.5,943.6 L53.0,929.4 L54.5,927.2 L56.0,927.7 L57.5,928.6 L59.0,924.5 L60.5,927.0 L62.0,926.1 L63.5,920.3 L65.0,921.7 L66.5,922.9 L68.0,920.1 L69.5,913.8 L71.0,911.5 L72.5,906.9 L74.0,904.2 L75.5,903.8 L77.0,899.3 L78.5,880.1 L80.0,871.2 L81.5,874.3 L83.0,875.6 L84.5,870.8 L86.0,870.6 L87.5,865.2 L89.0,864.7 L90.5,853.7 L92.0,851.2 L93.5,847.5 L95.0,845.0 L96.5,863.9 L98.0,862.3 L99.5,860.1 L101.0,860.5 L102.5,855.5 L104.0,858.0 L105.5,863.4 L107.0,860.8 L108.5,864.0 L110.0,864.4 L111.5,868.2 L113.0,864.1 L114.5,870.8 L116.0,874.9 L117.5,875.2 L119.0,877.1 L120.5,881.7 L122.0,884.5 L123.5,886.0 L125.0,890.0 L126.5,890.4 L128.0,894.3 L129.5,895.3 L131.0,899.2 L132.5,901.9 L134.0,902.1 L135.5,905.6 L137.0,906.0 L138.5,908.4 L140.0,907.6 L141.5,910.5 L143.0,911.4 L144.5,913.8 L146.0,910.0 L147.5,908.1 L149.0,906.1 L150.5,912.9 L152.0,915.9 L153.5,916.2 L155.0,922.1 L156.5,927.6 L158.0,926.6 L159.5,927.0 L161.0,922.5 L162.5,920.2 L164.0,926.2 L165.5,926.6 L167.0,928.0 L168.5,927.4 L170.0,928.4 L171.5,932.6 L173.0,932.7 L174.5,934.6 L176.0,933.6 L177.5,933.8 L179.0,932.7 L180.5,931.5 L182.0,935.7 L183.5,936.0 L185.0,937.7 L186.5,938.5 L188.0,938.9 L189.5,939.0 L191.0,938.7 L192.5,941.0 L194.0,940.9 L195.5,942.2 L197.0,942.0 L198.5,943.0 L200.0,941.4 L201.5,943.5 L203.0,944.2 L204.5,943.6 L206.0,944.8 L207.5,944.4 L209.0,945.0 L210.5,944.1 L212.0,944.9 L213.5,944.4 L215.0,945.0 L216.5,945.1 L218.0,945.1 L219.5,945.3" fill="none" stroke="#000" stroke-width="1.9"/>
<text transform="translate(81.7,831.3) scale(0.86,1)" font-size="19" textLength="77.9" lengthAdjust="spacing" stroke="#000" stroke-width="0.65">Control</text>
<line x1="140.9" y1="836.4" x2="128.9" y2="867.5" stroke="#000" stroke-width="2.6"/>
<polygon points="125.5,876.4 124.6,864.8 133.9,868.4" fill="#000"/>
<text transform="translate(177.4,848.5) scale(0.86,1)" font-size="18" textLength="44.7" lengthAdjust="spacing" stroke="#000" stroke-width="0.65">Dll4</text>
<line x1="213.7" y1="855.4" x2="221.6" y2="883.3" stroke="#000" stroke-width="2.6"/>
<polygon points="224.2,892.4 216.5,883.7 226.1,880.9" fill="#000"/>
<text transform="translate(345,825.4) scale(0.86,1)" font-size="19" textLength="70.2" lengthAdjust="spacing" stroke="#000" stroke-width="0.65">Vector</text>
<line x1="342.6" y1="834.8" x2="329.6" y2="867.3" stroke="#000" stroke-width="2.6"/>
<polygon points="326.1,876.1 325.4,864.5 334.6,868.2" fill="#000"/>
<line x1="63" y1="979" x2="197" y2="979" stroke="#000" stroke-width="2.6" stroke-linecap="round"/>
<line x1="321.5" y1="979.0" x2="443.3" y2="979.3" stroke="#000" stroke-width="2.6"/>
<polygon points="457.1,979.3 442.3,985.8 442.3,972.8" fill="#000"/>
<text x="218.3" y="982.8" font-size="23.5" textLength="63" lengthAdjust="spacingAndGlyphs" stroke="#000" stroke-width="0.7">NRP1</text>
</svg>
</body></html>
